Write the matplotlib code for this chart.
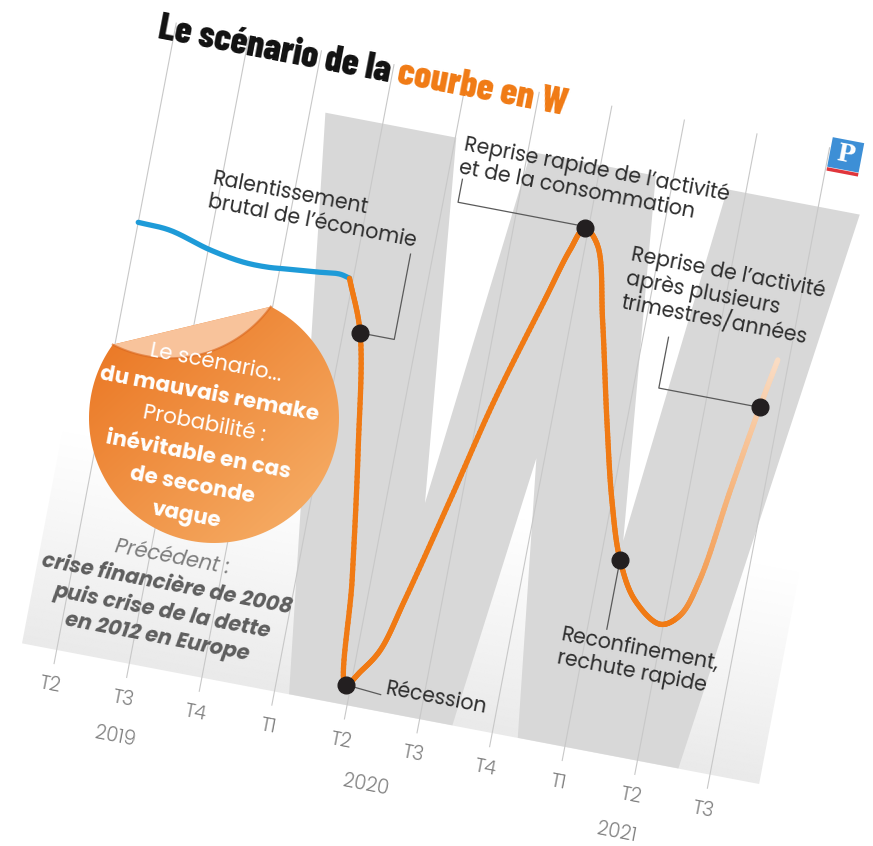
import numpy as np
import matplotlib
matplotlib.use("Agg")
import matplotlib.pyplot as plt
from matplotlib import font_manager as fm
from matplotlib.transforms import Affine2D
from matplotlib.textpath import TextPath
from matplotlib.font_manager import FontProperties
from matplotlib.patches import PathPatch, Polygon, Rectangle
from matplotlib.collections import LineCollection
from matplotlib.colors import to_rgb

# ---------------- data ----------------
quarter_labels = ["T2", "T3", "T4", "T1", "T2", "T3", "T4", "T1", "T2", "T3"]
year_labels = ["2019", "2020", "2021"]
year_quarter = [1.0, 4.45, 7.9]

observed_q = [0.0, 0.44, 1.02, 1.49, 1.83, 2.10, 2.50, 2.81, 2.95]
observed_v = [101.6, 101.2, 98.6, 97.3, 97.2, 97.6, 98.2, 98.7, 98.2]

scenario_q = [2.95, 3.23, 3.50, 3.75, 3.93, 4.09, 4.30, 4.50, 4.85, 5.19, 5.60,
              5.81, 5.95, 6.16, 6.42, 6.73, 7.00, 7.26, 7.56, 7.96, 8.20, 8.37,
              8.55, 8.73, 8.85]
scenario_v = [98.2, 86.7, 61.1, 32.4, 9.3, 12.7, 18.2, 30.2, 54.0, 77.8, 101.6,
              113.6, 118.9, 115.8, 99.6, 78.0, 60.7, 48.0, 39.8, 35.6, 38.4, 46.9,
              67.8, 87.1, 98.2]

event_q = [3.23, 3.93, 5.95, 7.26, 8.73]
event_v = [86.7, 9.3, 118.9, 48.0, 87.1]

# ---------------- fonts ----------------
TTF = fm.fontManager.ttflist

def font_file(cands, weight, style="normal"):
    for fam in cands:
        ents = [f for f in TTF if f.name == fam]
        ws = {f.weight for f in ents if f.style == "normal"}
        if not ({400, 700} <= ws):
            continue
        sel = [f for f in ents if f.style == style] or [f for f in ents if f.style == "normal"]
        best = min(sel, key=lambda f: abs(int(f.weight) - weight))
        return best.fname
    return fm.findfont(FontProperties(family="DejaVu Sans",
                                      weight="bold" if weight >= 600 else "normal",
                                      style=style))

def heavy_file(cands):
    for fam in cands:
        ents = [f for f in TTF if f.name == fam and f.style == "normal"]
        if ents:
            return max(ents, key=lambda f: int(f.weight)).fname
    return fm.findfont(FontProperties(family="DejaVu Sans", weight="bold"))

TITLE_CANDS = ["Barlow Condensed", "Roboto Condensed", "Fira Sans Extra Condensed",
               "Archivo Narrow", "Liberation Sans Narrow"]
BODY_CANDS = ["Poppins", "Lato", "Open Sans", "Noto Sans", "DejaVu Sans"]
F_TITLE = FontProperties(fname=font_file(TITLE_CANDS, 800))
F_W = FontProperties(fname=heavy_file(["Anton"] + TITLE_CANDS))
F_REG = FontProperties(fname=font_file(BODY_CANDS, 400))
F_TICK = FontProperties(fname=font_file(BODY_CANDS, 350))
F_BOLD = FontProperties(fname=font_file(BODY_CANDS, 700))
F_IT = FontProperties(fname=font_file(BODY_CANDS, 400, "italic"))
F_BIT = FontProperties(fname=font_file(BODY_CANDS, 700, "italic"))

# ---------------- styles ----------------
ORANGE = "#f07a14"
BLUE = "#1e9bd8"
W_GRAY = "#d8d8d8"
GRID = "#c8c8c8"
TXT = "#2e2e2e"
TICK = "#808080"

THETA = 10.8
c, s = np.cos(np.radians(THETA)), np.sin(np.radians(THETA))
PX, PY = 45.0, 670.0
U0, DU, DV = 7.7, 73.9, 4.5

fig = plt.figure(figsize=(8.73, 8.46), dpi=100)
ax = fig.add_axes([0, 0, 1, 1])
ax.set_xlim(0, 873)
ax.set_ylim(846, 0)
ax.axis("off")
rend = fig.canvas.get_renderer()

def text_width(txt, fp, size):
    t_ = ax.text(0, 0, txt, fontproperties=fp, fontsize=size)
    w_ = t_.get_window_extent(rend).width
    t_.remove()
    return w_

def fit_size(txt, target_px, fp):
    return 20 * target_px / text_width(txt, fp, 20)

# local (rotated) pixel frame and data frame
px_tf = Affine2D(np.array([[c, s, PX], [s, -c, PY], [0, 0, 1.0]])) + ax.transData
data_tf = Affine2D().scale(DU, DV).translate(U0, 0) + px_tf

# light background band (gradient)
H = 120
band = np.zeros((H, 2, 4))
band[..., :3] = to_rgb("#eaeaea")
band[..., 3] = (np.linspace(1, 0, H) ** 1.1)[:, None]
ax.imshow(band, extent=(-28, 722, 22, 240), origin="lower", transform=px_tf,
          interpolation="bilinear", aspect="auto", zorder=1)

# big grey W
tp = TextPath((0, 0), "W", size=100, prop=F_W)
ext = tp.get_extents()
wtf = (Affine2D().translate(-ext.x0, -ext.y0)
       .scale(544 / ext.width, 578 / ext.height).translate(171, 22) + px_tf)
ax.add_patch(PathPatch(tp, transform=wtf, fc=W_GRAY, ec="none", zorder=2))

# vertical grid lines at each quarter
for i in range(len(quarter_labels)):
    ax.plot([i, i], [8 / DV, 660 / DV], transform=data_tf, color=GRID, lw=0.8, zorder=3)

# tick labels and years
TK = dict(transform=data_tf, rotation=-THETA, rotation_mode="anchor", ha="center",
          va="center", fontproperties=F_TICK, fontsize=14, color=TICK, zorder=8)
for i, lab in enumerate(quarter_labels):
    ax.text(i, -14 / DV, lab, **TK)
for yq, lab in zip(year_quarter, year_labels):
    ax.text(yq, -53 / DV, lab, **TK)

# ---------------- sticker ----------------
C = np.array([214.0, 418.0]); R = 125.0; D = 95.0
dvec = np.array([158.0, -38.0]); dvec /= np.linalg.norm(dvec)
nvec = np.array([-dvec[1], dvec[0]])
if nvec[1] < 0:
    nvec = -nvec
mid = C - D * nvec
half = np.sqrt(R ** 2 - D ** 2)
A = mid - half * dvec
B = mid + half * dvec
angA = np.degrees(np.arctan2(*(A - C)[::-1])) % 360
angB = np.degrees(np.arctan2(*(B - C)[::-1]))
if angA < angB:
    angA += 360
t = np.radians(np.linspace(angB, angA, 160))
body = np.column_stack([C[0] + R * np.cos(t), C[1] + R * np.sin(t)])
body_patch = Polygon(body, closed=True, fc="none", ec="none", transform=ax.transData)
ax.add_patch(body_patch)
gx, gy = np.meshgrid(np.linspace(0, 1, 60), np.linspace(0, 1, 60))
g = np.clip((0.55 * gx + 0.6 * gy), 0, 1)
c0, c1 = np.array(to_rgb("#e9701b")), np.array(to_rgb("#f5aa62"))
img = c0[None, None, :] * (1 - g[..., None]) + c1[None, None, :] * g[..., None]
im = ax.imshow(img, extent=(85, 342, 548, 290), origin="upper", interpolation="bilinear",
               aspect="auto", zorder=4)
im.set_clip_path(body_patch)
t2 = np.radians(np.linspace(angA, angB + 360, 80))
cap = np.column_stack([C[0] + R * np.cos(t2), C[1] + R * np.sin(t2)])
sd = (cap - mid) @ nvec
flap = cap - 2 * sd[:, None] * nvec[None, :]
ax.add_patch(Polygon(flap, closed=True, fc="#f8c39b", ec="none", zorder=4.2))
ax.plot(flap[:, 0], flap[:, 1], color="#d9651c", lw=1.5, alpha=0.6, zorder=4.3)

st_size = fit_size("du mauvais remake", 222, F_BOLD)
sticker_lines = [("Le scénario...", F_REG), ("du mauvais remake", F_BOLD),
                 ("Probabilité :", F_REG), ("inévitable en cas", F_BOLD),
                 ("de seconde", F_BOLD), ("vague", F_BOLD)]
for k, (txt, fp) in enumerate(sticker_lines):
    ax.text(110, 255 + (2.5 - k) * 31, txt, transform=px_tf, rotation=-THETA,
            rotation_mode="anchor", ha="center", va="center", fontproperties=fp,
            fontsize=st_size, color="white", zorder=8)

pr_size = fit_size("crise financière de 2008", 255, F_BIT)
prec_lines = [("Précédent :", F_IT, "#7d7d7d"),
              ("crise financière de 2008", F_BIT, "#5e5e5e"),
              ("puis crise de la dette", F_BIT, "#5e5e5e"),
              ("en 2012 en Europe", F_BIT, "#5e5e5e")]
for k, (txt, fp, col) in enumerate(prec_lines):
    ax.text(104, 93 + (1.5 - k) * 27, txt, transform=px_tf, rotation=-THETA,
            rotation_mode="anchor", ha="center", va="center", fontproperties=fp,
            fontsize=pr_size, color=col, zorder=8)

# ---------------- curves ----------------
def cr_chain(pts, n=24, alpha=0.5):
    pts = np.asarray(pts, float)
    ext_ = np.vstack([2 * pts[0] - pts[1], pts, 2 * pts[-1] - pts[-2]])
    out = []
    for i in range(len(pts) - 1):
        p0, p1, p2, p3 = ext_[i:i + 4]
        t0 = 0.0
        t1 = t0 + np.linalg.norm(p1 - p0) ** alpha
        t2_ = t1 + np.linalg.norm(p2 - p1) ** alpha
        t3 = t2_ + np.linalg.norm(p3 - p2) ** alpha
        tt = np.linspace(t1, t2_, n, endpoint=(i == len(pts) - 2))[:, None]
        A1 = (t1 - tt) / (t1 - t0) * p0 + (tt - t0) / (t1 - t0) * p1
        A2 = (t2_ - tt) / (t2_ - t1) * p1 + (tt - t1) / (t2_ - t1) * p2
        A3 = (t3 - tt) / (t3 - t2_) * p2 + (tt - t2_) / (t3 - t2_) * p3
        B1 = (t2_ - tt) / (t2_ - t0) * A1 + (tt - t0) / (t2_ - t0) * A2
        B2 = (t3 - tt) / (t3 - t1) * A2 + (tt - t1) / (t3 - t1) * A3
        out.append((t2_ - tt) / (t2_ - t1) * B1 + (tt - t1) / (t2_ - t1) * B2)
    return np.vstack(out)

def smooth(qs, vs):
    p = cr_chain(np.column_stack([np.asarray(qs) * DU, np.asarray(vs) * DV]))
    return p[:, 0] / DU, p[:, 1] / DV

bq, bv = smooth(observed_q, observed_v)
ax.plot(bq, bv, transform=data_tf, color=BLUE, lw=3.8, solid_capstyle="round", zorder=6)

sq, sv = smooth(scenario_q, scenario_v)
pts = np.column_stack([sq, sv])
segs = np.stack([pts[:-1], pts[1:]], axis=1)
qm = 0.5 * (sq[:-1] + sq[1:])
fade = np.clip((qm - 8.15) / (8.85 - 8.15), 0, 1) ** 0.9
oc, lc = np.array(to_rgb(ORANGE)), np.array(to_rgb("#f9dcc4"))
cols = oc[None, :] * (1 - fade[:, None]) + lc[None, :] * fade[:, None]
ax.add_collection(LineCollection(segs, colors=cols, linewidths=3.8, capstyle="round",
                                 joinstyle="round", transform=data_tf, zorder=6))

# leader lines
LEAD = dict(color="#5a5a5a", lw=0.9, zorder=5, transform=data_tf)
ax.plot([3.23, 3.70, 3.70], [86.7, 86.7, 106.0], **LEAD)
ax.plot([5.95, 4.20, 4.20], [119.3, 119.3, 124.5], **LEAD)
ax.plot([7.26, 7.26], [48.0, 32.3], **LEAD)
ax.plot([8.73, 7.34, 7.34], [87.1, 87.1, 98.6], **LEAD)
ax.plot([3.93, 4.42], [9.3, 8.6], **LEAD)

ax.plot(event_q, event_v, "o", transform=data_tf, color="#231f20", ms=12, zorder=7)

# annotation texts
an_size = fit_size("brutal de l\u2019économie", 212, F_REG)
ANN = dict(transform=data_tf, rotation=-THETA, rotation_mode="anchor", ha="left",
           va="top", fontproperties=F_REG, fontsize=an_size, color=TXT, zorder=8,
           linespacing=1.05)
ax.text(0.87, 116.5, "Ralentissement\nbrutal de l\u2019économie", **ANN)
ax.text(4.13, 134.6, "Reprise rapide de l\u2019activité\net de la consommation", **ANN)
ax.text(6.63, 117.5, "Reprise de l\u2019activité\naprès plusieurs\ntrimestres/années", **ANN)
ax.text(6.67, 31.5, "Reconfinement,\nrechute rapide", **ANN)
ax.text(4.47, 12.5, "Récession", **ANN)

# ---------------- title ----------------
p1, p2 = "Le scénario de la ", "courbe en W"
base = 30
tot = text_width(p1, F_TITLE, base) + text_width(p2, F_TITLE, base)
size = min(31, base * 417 / tot)
w1 = text_width(p1, F_TITLE, size)
ax.text(-8.4, 642, p1, transform=px_tf, rotation=-THETA, rotation_mode="anchor",
        ha="left", va="baseline", fontproperties=F_TITLE, fontsize=size,
        color="#111111", zorder=9)
ax.text(-8.4 + w1, 642, p2, transform=px_tf, rotation=-THETA, rotation_mode="anchor",
        ha="left", va="baseline", fontproperties=F_TITLE, fontsize=size,
        color=ORANGE, zorder=9)

# logo
ax.add_patch(Rectangle((674, 641), 32, 30, transform=px_tf, fc="#3d8fd6", ec="none", zorder=8))
ax.add_patch(Rectangle((674, 637), 32, 3.5, transform=px_tf, fc="#e0363c", ec="none", zorder=8))
ax.text(690, 656, "P", transform=px_tf, rotation=-THETA, rotation_mode="anchor",
        ha="center", va="center", fontsize=17, fontweight="bold", family="DejaVu Serif",
        color="white", zorder=9)

ax.set_xlim(0, 873)
ax.set_ylim(846, 0)
fig.savefig("out.png", dpi=100)
